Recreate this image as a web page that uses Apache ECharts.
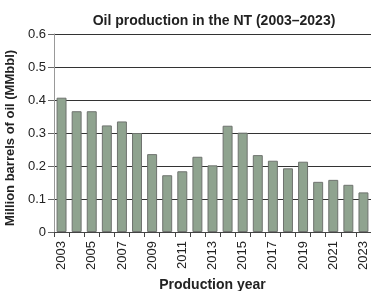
<!DOCTYPE html>
<html>
<head>
<meta charset="utf-8">
<script src="https://cdn.jsdelivr.net/npm/echarts@6/dist/echarts.min.js"></script>
<style>
  html, body { margin: 0; padding: 0; background: #fff; }
  #chart { width: 371px; height: 291px; }
</style>
</head>
<body>
<div id="chart"></div>
<script>
var years = ['2003', '2004', '2005', '2006', '2007', '2008', '2009', '2010', '2011', '2012',
  '2013', '2014', '2015', '2016', '2017', '2018', '2019', '2020', '2021', '2022', '2023'];
var production = [0.407, 0.366, 0.366, 0.323, 0.335, 0.300, 0.236, 0.172, 0.184, 0.228,
  0.202, 0.322, 0.301, 0.233, 0.216, 0.193, 0.213, 0.152, 0.158, 0.143, 0.120];
var yTicks = [0, 0.1, 0.2, 0.3, 0.4, 0.5, 0.6];

var font = '"Liberation Sans Narrow", "Liberation Sans", Arial, sans-serif';
var chart = echarts.init(document.getElementById('chart'));

chart.setOption({
  animation: false,
  textStyle: { fontFamily: font },
  title: {
    text: 'Oil production in the NT (2003\u20132023)',
    left: 209,
    textAlign: 'center',
    top: 9,
    textStyle: { fontFamily: font, fontSize: 14, fontWeight: 'bold', color: '#222' }
  },
  grid: { left: 54, right: 0, top: 34, bottom: 59, outerBoundsMode: 'none', containLabel: false },
  xAxis: {
    type: 'category',
    data: years,
    name: 'Production year',
    nameLocation: 'middle',
    nameGap: 40,
    nameTextStyle: { fontFamily: font, fontSize: 14, fontWeight: 'bold', color: '#222' },
    axisLine: { lineStyle: { color: '#444', width: 1 } },
    axisTick: { show: true, alignWithLabel: false, interval: 0, length: 5, lineStyle: { color: '#444' } },
    axisLabel: {
      interval: 1,
      rotate: 90,
      margin: 9,
      fontFamily: font,
      fontSize: 13,
      color: '#222'
    }
  },
  yAxis: {
    type: 'value',
    min: 0,
    max: 0.6,
    interval: 0.1,
    name: 'Million barrels of oil (MMbbl)',
    nameLocation: 'middle',
    nameGap: 33,
    nameTextStyle: { fontFamily: font, fontSize: 13, fontWeight: 'bold', color: '#222', padding: [0, 10, 0, 0] },
    axisLine: { show: true, lineStyle: { color: '#999', width: 1 } },
    axisTick: { show: true, length: 6, lineStyle: { color: '#666' } },
    axisLabel: {
      margin: 8,
      fontFamily: font,
      fontSize: 13,
      color: '#222',
      formatter: function (v) {
        var t = yTicks.find(function (x) { return Math.abs(x - v) < 1e-6; });
        return t === 0 ? '0' : String(t);
      }
    },
    splitLine: { show: true, lineStyle: { color: '#333', width: 1 } }
  },
  series: [{
    type: 'bar',
    data: production,
    barWidth: '66%',
    itemStyle: { color: '#8fa38f', borderColor: '#6f736f', borderWidth: 1 }
  }]
});
</script>
</body>
</html>
